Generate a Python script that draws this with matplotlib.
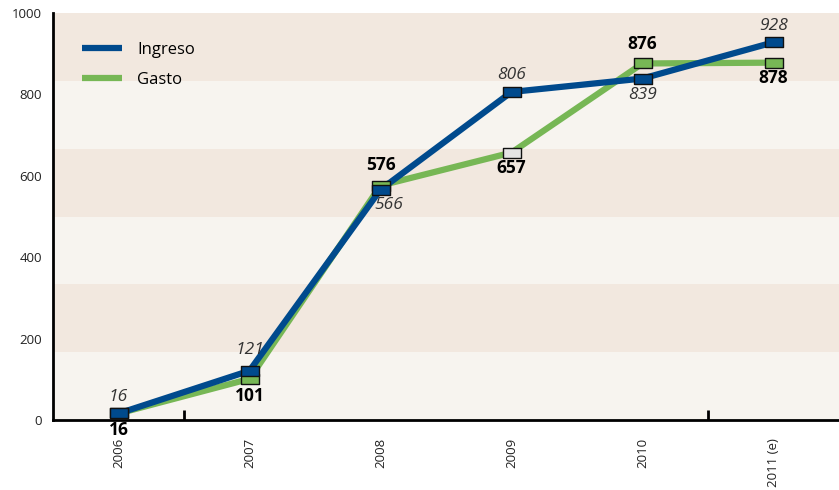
import matplotlib
matplotlib.use("Agg")
import matplotlib.pyplot as plt
from matplotlib.patches import Rectangle

plt.rcParams['font.family'] = ['Open Sans', 'DejaVu Sans']

years = ["2006", "2007", "2008", "2009", "2010", "2011 (e)"]
ingreso = [16, 121, 566, 806, 839, 928]
gasto = [16, 101, 576, 657, 876, 878]
yticks = [0, 200, 400, 600, 800, 1000]

# label offsets in points (above > 0, below < 0)
ingreso_off = [(0, 12), (0, 15), (6, -11), (0, 12), (0, -12), (0, 12)]
gasto_off = [(0, -12), (0, -12), (0, 15), (0, -11), (0, 14), (0, -11)]

blue = "#004a8d"
green = "#77b755"
gasto_marker_fc = [green, green, green, "#e4e4e4", green, green]

fig = plt.figure(figsize=(8.39, 4.90), dpi=100)
ax = fig.add_axes([53 / 839, 70 / 490, 1 - 53 / 839, 407 / 490])

# background bands
band_colors = ["#f7f4ef", "#f2e8df"]
nb = 6
for i in range(nb):
    ax.add_patch(Rectangle((-0.5, i * 1000 / nb), 6, 1000 / nb,
                           facecolor=band_colors[i % 2], edgecolor="none", zorder=0))

x = list(range(len(years)))
rect = [(-1.7, -1), (1.7, -1), (1.7, 1), (-1.7, 1), (-1.7, -1)]

ax.plot(x, gasto, color=green, lw=4.5, zorder=2, solid_capstyle="butt", label="Gasto")
ax.plot(x, ingreso, color=blue, lw=4.5, zorder=3, solid_capstyle="butt", label="Ingreso")
for xi, yi, fc in zip(x, gasto, gasto_marker_fc):
    ax.plot([xi], [yi], marker=rect, ms=12.5, mfc=fc, mec="#111111", mew=1.0,
            ls="none", zorder=4)
ax.plot(x, ingreso, marker=rect, ms=12.5, mfc=blue, mec="#111111", mew=1.0,
        ls="none", zorder=5)

for xi, yi, off in zip(x, ingreso, ingreso_off):
    ax.annotate(str(yi), (xi, yi), xytext=off, textcoords="offset points",
                ha="center", va="center", fontsize=12.5, style="italic",
                color="#333333", zorder=6)
for xi, yi, off in zip(x, gasto, gasto_off):
    ax.annotate(str(yi), (xi, yi), xytext=off, textcoords="offset points",
                ha="center", va="center", fontsize=12.5, fontweight="bold",
                color="#000000", zorder=6)

ax.set_xlim(-0.5, 5.5)
ax.set_ylim(0, 1000)
ax.set_yticks(yticks)
ax.set_yticklabels([str(v) for v in yticks], fontsize=9.5, color="#222222")
ax.tick_params(axis="y", length=0, pad=8)
ax.set_xticks(x)
ax.set_xticklabels(years, rotation=90, fontsize=9.5, color="#222222")
ax.tick_params(axis="x", length=0, pad=13)
ax.set_xticks([0.5, 4.5], minor=True)
ax.tick_params(axis="x", which="minor", direction="in", length=7, width=2, color="black")

for s in ["top", "right"]:
    ax.spines[s].set_visible(False)
for s in ["left", "bottom"]:
    ax.spines[s].set_linewidth(2)
    ax.spines[s].set_color("black")

h, l = ax.get_legend_handles_labels()
leg = ax.legend(h[::-1], l[::-1], loc="upper left", bbox_to_anchor=(0.029, 0.946),
                borderaxespad=0, frameon=False, fontsize=12, handlelength=2.4,
                labelspacing=0.85, handletextpad=0.9)

fig.savefig("out.png", dpi=100)
